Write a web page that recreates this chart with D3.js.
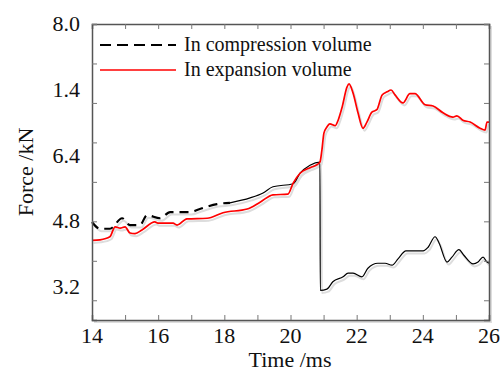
<!DOCTYPE html>
<html>
<head>
<meta charset="utf-8">
<script src="https://cdn.jsdelivr.net/npm/d3@7"></script>
<style>
  body { margin: 0; background: #fff; }
  text { font-family: "Liberation Serif", "Times New Roman", serif; fill: #111; }
</style>
</head>
<body>
<svg id="chart" width="503" height="371"></svg>
<script>
// time (ms) and force (kN)
const compTime = [14, 14.24, 14.54, 14.91, 15.15, 15.45, 15.66, 16.06, 16.36, 16.96, 17.26, 17.78, 18.17,
  18.78, 19.17, 19.47, 20.08, 20.29, 20.59, 20.89, 20.9, 21.10, 21.28, 21.59, 21.74, 21.89, 22.16, 22.34,
  22.64, 22.86, 23.07, 23.25, 23.49, 24.01, 24.16, 24.37, 24.49, 24.73, 24.88, 25.09, 25.24, 25.52, 25.67,
  25.82, 25.94, 26.0];
const compForce = [4.79, 4.68, 4.68, 4.85, 4.74, 4.74, 4.90, 4.85, 4.95, 4.95, 5.00, 5.08, 5.10,
  5.18, 5.26, 5.36, 5.41, 5.58, 5.71, 5.76, 3.68, 3.70, 3.82, 3.90, 3.96, 3.96, 3.90, 4.04,
  4.12, 4.12, 4.09, 4.19, 4.32, 4.32, 4.38, 4.55, 4.45, 4.14, 4.22, 4.34, 4.25, 4.11, 4.14,
  4.22, 4.14, 4.12];

const expTime = [14, 14.24, 14.54, 14.70, 14.85, 15.0, 15.15, 15.30, 15.51, 15.90, 15.99, 16.45, 16.57,
  16.87, 17.48, 17.96, 18.69, 19.08, 19.47, 19.92, 20.08, 20.29, 20.59, 20.77, 20.89, 20.95, 21.01, 21.10,
  21.19, 21.35, 21.44, 21.56, 21.71, 21.77, 21.89, 22.04, 22.19, 22.31, 22.46, 22.61, 22.77, 22.92, 23.04,
  23.16, 23.40, 23.61, 23.76, 24.07, 24.31, 24.61, 24.91, 25.03, 25.21, 25.43, 25.73, 25.88, 25.94, 26.0];
const expForce = [4.49, 4.50, 4.55, 4.71, 4.69, 4.71, 4.61, 4.60, 4.66, 4.79, 4.77, 4.77, 4.74,
  4.84, 4.85, 4.94, 5.00, 5.11, 5.23, 5.24, 5.42, 5.58, 5.67, 5.71, 5.76, 5.96, 6.23, 6.33,
  6.38, 6.35, 6.44, 6.65, 6.98, 7.03, 6.88, 6.56, 6.31, 6.41, 6.57, 6.61, 6.85, 6.90, 6.93,
  6.85, 6.72, 6.87, 6.87, 6.69, 6.67, 6.56, 6.49, 6.51, 6.44, 6.41, 6.31, 6.28, 6.41, 6.41];

const xTickValues = [14, 16, 18, 20, 22, 24, 26];
const yTickLabels = ["8.0", "1.4", "6.4", "4.8", "3.2"];
const yLabelValues = [8.0, 6.933, 5.867, 4.8, 3.733];
const seriesNames = ["In compression volume", "In expansion volume"];

const svg = d3.select('#chart');
const plotL = 92, plotR = 489, plotT = 24, plotB = 320;

const x = d3.scaleLinear().domain([14, 26]).range([plotL, plotR]);
const y = d3.scaleLinear().domain([3.2, 8.0]).range([plotB, plotT]);

svg.append('rect').attr('width', 503).attr('height', 371).attr('fill', '#fff');

const comp = compTime.map((t, i) => [t, compForce[i]]);
const exp = expTime.map((t, i) => [t, expForce[i]]);
const line = d3.line().x(d => x(d[0])).y(d => y(d[1])).curve(d3.curveMonotoneX);

// soft grey shadow under the curves
const shadow = svg.append('g').attr('transform', 'translate(1.5,2.5)')
  .attr('fill', 'none').attr('stroke', '#ddd').attr('stroke-width', 2);
shadow.append('path').attr('d', line(comp));
shadow.append('path').attr('d', line(exp));

// frame shadow
svg.append('path')
  .attr('d', `M${plotR + 2},${plotT + 2}V${plotB + 2}H${plotL + 2}`)
  .attr('fill', 'none').attr('stroke', '#ddd').attr('stroke-width', 2);

const compDashed = comp.filter(d => d[0] <= 18.2);
const compSolid = comp.filter(d => d[0] >= 18.17);

svg.append('path').attr('d', line(compDashed))
  .attr('fill', 'none').attr('stroke', '#000').attr('stroke-width', 2.2)
  .attr('stroke-dasharray', '9,6');
svg.append('path').attr('d', line(compSolid))
  .attr('fill', 'none').attr('stroke', '#000').attr('stroke-width', 1.2);

svg.append('path').attr('d', line(exp))
  .attr('fill', 'none').attr('stroke', '#f00').attr('stroke-width', 1.7)
  .attr('stroke-linejoin', 'round');

// axes frame with inward ticks on all four sides
const minorX = d3.range(14, 26.01, 1);
const minorY = d3.range(0, 8).map(i => 8 - i * 0.64);

svg.append('g').attr('transform', `translate(0,${plotB})`)
  .call(d3.axisBottom(x).tickValues(minorX).tickSize(-5).tickFormat(''));
svg.append('g').attr('transform', `translate(0,${plotT})`)
  .call(d3.axisTop(x).tickValues(minorX).tickSize(-5).tickFormat(''));
svg.append('g').attr('transform', `translate(${plotL},0)`)
  .call(d3.axisLeft(y).tickValues(minorY).tickSize(-5).tickFormat(''));
svg.append('g').attr('transform', `translate(${plotR},0)`)
  .call(d3.axisRight(y).tickValues(minorY).tickSize(-5).tickFormat(''));

svg.selectAll('.domain').attr('stroke', '#555').attr('stroke-width', 1.5);
svg.selectAll('.tick line').attr('stroke', '#777');

svg.selectAll('.xlab').data(xTickValues).enter().append('text')
  .attr('x', d => x(d)).attr('y', 343)
  .attr('text-anchor', 'middle').attr('font-size', 22)
  .text(d => d);

svg.selectAll('.ylab').data(yLabelValues).enter().append('text')
  .attr('x', 80).attr('y', d => y(d) + 7)
  .attr('text-anchor', 'end').attr('font-size', 22)
  .text((d, i) => yTickLabels[i]);

svg.append('text').attr('x', 290).attr('y', 367)
  .attr('text-anchor', 'middle').attr('font-size', 22).text('Time /ms');
svg.append('text')
  .attr('transform', `translate(33,${(plotT + plotB) / 2}) rotate(-90)`)
  .attr('text-anchor', 'middle').attr('font-size', 22).text('Force /kN');

// legend
const legend = svg.append('g');
legend.append('line').attr('x1', 100).attr('x2', 176).attr('y1', 45).attr('y2', 45)
  .attr('stroke', '#000').attr('stroke-width', 2).attr('stroke-dasharray', '11,6');
legend.append('line').attr('x1', 100).attr('x2', 176).attr('y1', 70).attr('y2', 70)
  .attr('stroke', '#f00').attr('stroke-width', 1.3);
legend.selectAll('.leg').data(seriesNames).enter().append('text')
  .attr('x', 184).attr('y', (d, i) => 51 + i * 25)
  .attr('font-size', 20)
  .text(d => d);
</script>
</body>
</html>
